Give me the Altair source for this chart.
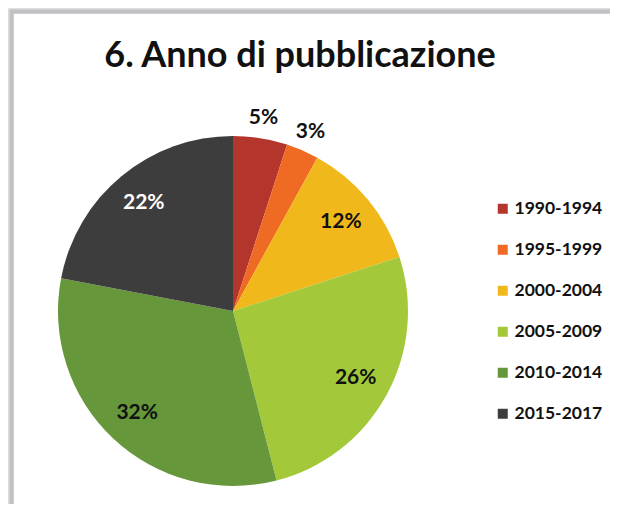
import altair as alt
import pandas as pd

categories = ["1990-1994", "1995-1999", "2000-2004", "2005-2009", "2010-2014", "2015-2017"]
values = [5, 3, 12, 26, 32, 22]
colors = ["#b3352b", "#ef6a22", "#f1b81c", "#a3c93a", "#66973b", "#3e3d3e"]
label_colors = ["#111111", "#111111", "#111111", "#111111", "#111111", "#ffffff"]
title_text = "6. Anno di pubblicazione"

df = pd.DataFrame({
    "periodo": categories,
    "valore": values,
    "ordine": list(range(len(categories))),
    "etichetta": [f"{v}%" for v in values],
    "colore_testo": label_colors,
})

W, H = 602, 496
CX, CY = 225, 303
R = 175

frame = alt.Chart(pd.DataFrame({"a": [0]})).mark_rect(
    fill="white", stroke="#c1c1c5", strokeWidth=4.5
).encode(
    x=alt.value(3.5), x2=alt.value(900), y=alt.value(3.5), y2=alt.value(900)
)

title = alt.Chart(pd.DataFrame({"t": [title_text]})).mark_text(
    font="Lato", fontWeight="bold", fontSize=36, color="#111111",
    align="center", baseline="alphabetic"
).encode(text="t:N", x=alt.value(292), y=alt.value(59))

shadow = alt.Chart(pd.DataFrame({"a": [1]})).mark_arc(
    outerRadius=R + 1, color="#444444", opacity=0.4
).encode(theta=alt.Theta("a:Q"), x=alt.value(CX + 1), y=alt.value(CY + 4))

base = alt.Chart(df).encode(
    theta=alt.Theta("valore:Q", stack=True),
    order=alt.Order("ordine:Q"),
)

pie = base.mark_arc(outerRadius=R).encode(
    color=alt.Color(
        "periodo:N",
        scale=alt.Scale(domain=categories, range=colors),
        sort=categories,
        legend=alt.Legend(
            title=None, orient="none", legendX=486, legendY=192,
            symbolType="square", symbolSize=100, symbolStrokeWidth=0,
            labelFont="Lato", labelFontWeight="bold", labelFontSize=17.5,
            labelColor="#111111", rowPadding=22, labelOffset=3,
        ),
    ),
    x=alt.value(CX), y=alt.value(CY),
)

inner = base.mark_text(
    radius=140, font="Lato", fontWeight="bold", fontSize=21
).encode(
    text="etichetta:N",
    color=alt.Color("colore_testo:N", scale=None),
    opacity=alt.condition(alt.datum.valore >= 10, alt.value(1), alt.value(0)),
    x=alt.value(CX), y=alt.value(CY),
)

outer = base.mark_text(
    radius=195, font="Lato", fontWeight="bold", fontSize=21
).encode(
    text="etichetta:N",
    color=alt.Color("colore_testo:N", scale=None),
    opacity=alt.condition(alt.datum.valore < 10, alt.value(1), alt.value(0)),
    x=alt.value(CX), y=alt.value(CY),
)

chart = alt.layer(frame, title, shadow, pie, inner, outer).properties(
    width=W, height=H, autosize=alt.AutoSizeParams(type="none"), padding=0
).configure_view(strokeWidth=0).configure(background="white")

chart.save("out.html", embed_options={"renderer": "svg", "actions": False})
